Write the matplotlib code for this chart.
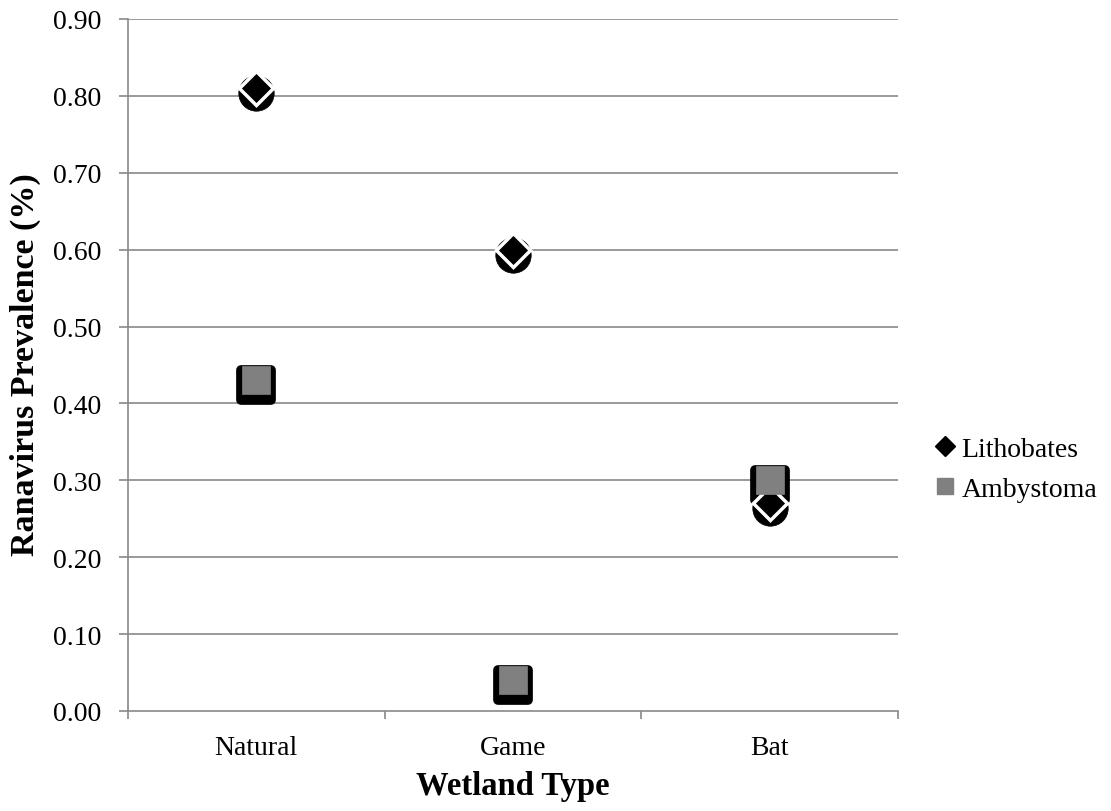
import matplotlib
matplotlib.use("Agg")
import matplotlib.pyplot as plt
from matplotlib.markers import MarkerStyle
from matplotlib.transforms import offset_copy
from matplotlib.lines import Line2D

# values
wetland_types = ["Natural", "Game", "Bat"]
lithobates = [0.81, 0.60, 0.27]
ambystoma = [0.43, 0.04, 0.30]
y_ticks = [0.0, 0.1, 0.2, 0.3, 0.4, 0.5, 0.6, 0.7, 0.8, 0.9]

plt.rcParams["font.family"] = ["Liberation Serif", "DejaVu Serif"]

fig = plt.figure(figsize=(11.11, 8.12), dpi=100)
ax = fig.add_axes([0.1152, 0.1232, 0.6931, 0.8522])

grid_col = "#898989"
x = list(range(len(wetland_types)))

ax.set_xlim(-0.5, 2.5)
ax.set_ylim(0, 0.9)
ax.set_yticks(y_ticks)
ax.set_yticklabels([f"{v:.2f}" for v in y_ticks], fontsize=20)
for v in y_ticks[1:]:
    ax.axhline(v, color=grid_col, lw=1.2, zorder=1)

ax.set_xticks(x)
ax.set_xticklabels(wetland_types, fontsize=20)
ax.set_xticks([-0.5, 0.5, 1.5, 2.5], minor=True)
ax.tick_params(axis="x", which="major", length=0, pad=17)
ax.tick_params(axis="x", which="minor", length=5.5, color=grid_col, width=1.2)
ax.tick_params(axis="y", length=6.5, color=grid_col, width=1.2, pad=13)
for s in ["top", "right"]:
    ax.spines[s].set_visible(False)
for s in ["left", "bottom"]:
    ax.spines[s].set_color(grid_col)
    ax.spines[s].set_linewidth(1.2)

# Excel-style shadows sitting slightly below each marker
shadow_sq = offset_copy(ax.transData, fig=fig, x=0, y=-5, units="dots")
shadow_di = offset_copy(ax.transData, fig=fig, x=0, y=-5, units="dots")
round_sq = MarkerStyle("s", joinstyle="round")

ax.plot(x, ambystoma, ls="none", marker=round_sq, ms=22, mfc="black", mec="black",
        mew=7, transform=shadow_sq, zorder=3)
ax.plot(x, lithobates, ls="none", marker="o", ms=25.5, mfc="black", mec="black",
        mew=0.5, transform=shadow_di, zorder=3)
ax.plot(x, lithobates, ls="none", marker="D", ms=17, mfc="black", mec="white",
        mew=2.5, zorder=4)
ax.plot(x, ambystoma, ls="none", marker="s", ms=20.5, mfc="#808080", mec="#808080",
        mew=0.5, zorder=5)

fig.text(25 / 1111, 1 - 365 / 812, "Ranavirus Prevalence (%)", rotation=90,
         ha="center", va="center", fontsize=24.5, fontweight="bold")
fig.text(513 / 1111, 1 - 787 / 812, "Wetland Type", ha="center", va="center",
         fontsize=23.5, fontweight="bold")

handles = [
    Line2D([], [], ls="none", marker="D", ms=10, mfc="black", mec="black"),
    Line2D([], [], ls="none", marker="s", ms=12, mfc="#808080", mec="#808080"),
]
fig.legend(handles, ["Lithobates", "Ambystoma"], loc="center left",
           bbox_to_anchor=(0.843, 0.421), frameon=False, fontsize=20,
           borderpad=0, borderaxespad=0, handlelength=0.6, handletextpad=0.3,
           labelspacing=0.5)

fig.savefig("out.png", dpi=100)
